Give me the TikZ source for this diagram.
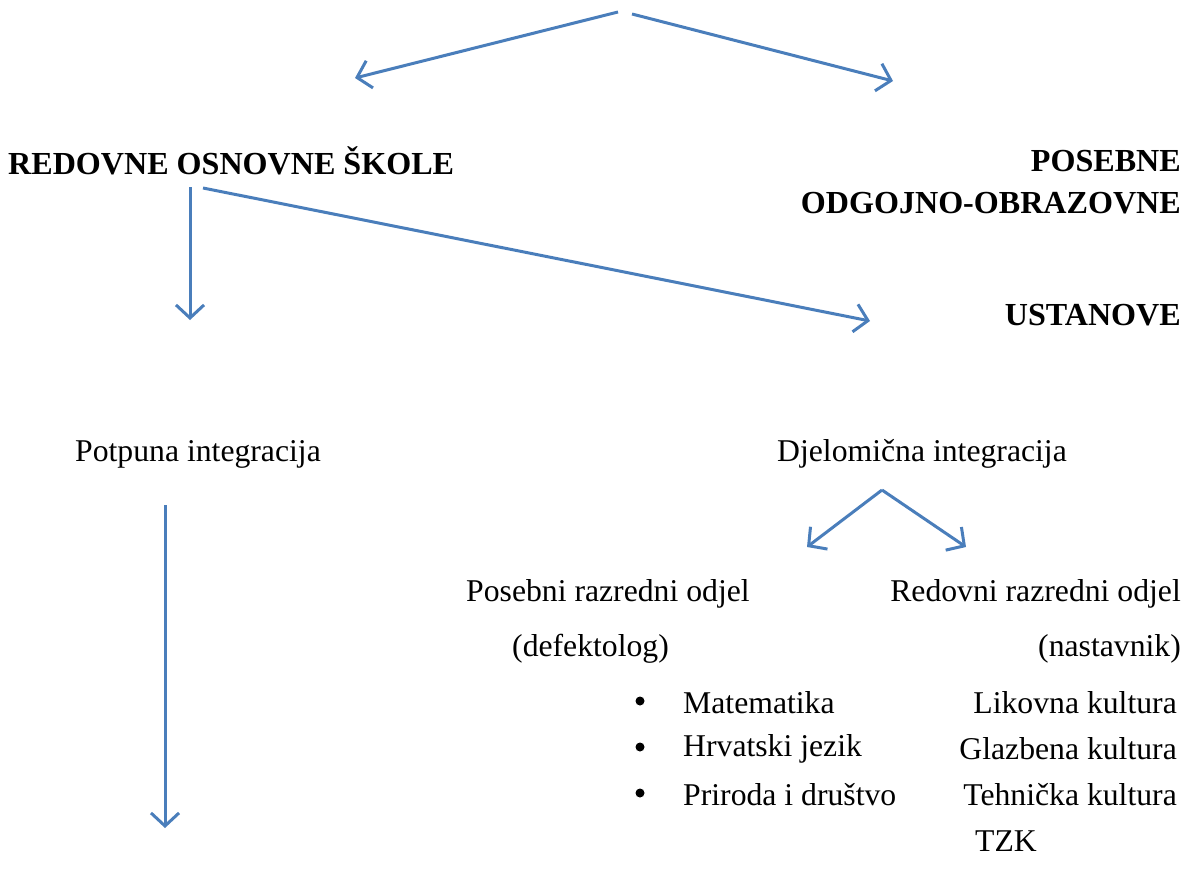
\documentclass[tikz,border=0pt]{standalone}
\usepackage{fontspec}
\setmainfont{Liberation Serif}
\usepackage{tikz}
\usepackage{xcolor}
\usetikzlibrary{arrows.meta}
\definecolor{wordblue}{HTML}{4A7EBB}

\begin{document}
\begin{tikzpicture}[x=1pt,y=-1pt]
    \tikzstyle{A}=[draw=wordblue,line width=3pt,-{Straight Barb[length=13pt,width=28pt,line width=3pt]}]
    \tikzstyle{T}=[inner sep=0pt,font=\fontsize{31.7}{38}\selectfont]
    \tikzstyle{B}=[T,font=\fontsize{32.1}{38}\selectfont\bfseries]
    \tikzstyle{D}=[circle,fill=black,inner sep=0pt,minimum size=9pt]
    \useasboundingbox (0,0) rectangle (1185,872);

    % Vrh
    \coordinate (topl) at (618, 12);
    \coordinate (topr) at (632, 14);
    \coordinate (endl) at (355, 78);
    \coordinate (endr) at (893, 81);
    \draw [A] (topl) -- (endl);
    \draw [A] (topr) -- (endr);

    % Ustanove
    \node [B, anchor=west] (redovne) at (8, 161) {REDOVNE OSNOVNE ŠKOLE};
    \node [B, anchor=east] (posebne) at (1181, 161) {POSEBNE};
    \node [B, anchor=east] (odgojno) at (1181, 203) {ODGOJNO-OBRAZOVNE};
    \node [B, anchor=east] (ustanove) at (1181, 315) {USTANOVE};

    \coordinate (r1) at (190, 187);
    \coordinate (r1e) at (190, 320);
    \coordinate (r2) at (203, 188);
    \coordinate (r2e) at (870, 321);
    \draw [A] (r1) -- (r1e);
    \draw [A] (r2) -- (r2e);

    % Integracija
    \node [T, anchor=west] (potpuna) at (75, 454) {Potpuna integracija};
    \node [T, anchor=west] (djelomicna) at (777, 454) {Djelomična integracija};

    \coordinate (p1) at (165, 505);
    \coordinate (p1e) at (165, 828);
    \draw [A] (p1) -- (p1e);

    \coordinate (d0) at (882, 490);
    \coordinate (dl) at (807, 547);
    \coordinate (dr) at (966, 547);
    \draw [A] (d0) -- (dl);
    \draw [A] (d0) -- (dr);

    % Odjeli
    \node [T, anchor=west] (posodjel) at (466, 594) {Posebni razredni odjel};
    \node [T, anchor=east] (redodjel) at (1181, 594) {Redovni razredni odjel};
    \node [T, anchor=west] (defekt) at (512, 649) {(defektolog)};
    \node [T, anchor=east] (nastav) at (1181, 649) {(nastavnik)};

    % Predmeti
    \node [D] (b1) at (640, 701) {};
    \node [D] (b2) at (640, 747) {};
    \node [D] (b3) at (640, 793) {};
    \node [T, anchor=west] (mat) at (683, 703) {Matematika};
    \node [T, anchor=west] (hrv) at (683, 749) {Hrvatski jezik};
    \node [T, anchor=west] (pid) at (683, 795) {Priroda i društvo};

    \node [T, anchor=east] (lik) at (1177, 703) {Likovna kultura};
    \node [T, anchor=east] (glaz) at (1177, 749) {Glazbena kultura};
    \node [T, anchor=east] (teh) at (1177, 795) {Tehnička kultura};
    \node [T, anchor=west] (tzk) at (975, 841) {TZK};
\end{tikzpicture}
\end{document}
